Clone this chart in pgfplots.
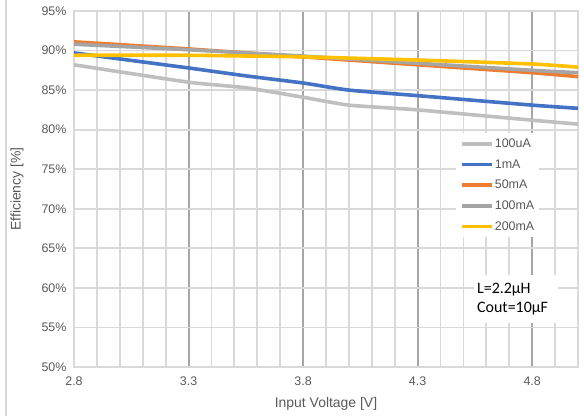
\documentclass[border=0pt]{standalone}
\usepackage{pgfplots}
\pgfplotsset{compat=1.18}
\usepackage{fontspec}
\setmainfont{Liberation Sans}
\newfontfamily\calib{Carlito}
\definecolor{txt}{HTML}{595959}
\definecolor{gridl}{HTML}{D9D9D9}
\definecolor{gridd}{HTML}{A6A6A6}
\definecolor{cA}{HTML}{BFBFBF}
\definecolor{cB}{HTML}{4472C4}
\definecolor{cC}{HTML}{ED7D31}
\definecolor{cD}{HTML}{A5A5A5}
\definecolor{cE}{HTML}{FFC000}
\begin{document}
\begin{tikzpicture}[x=1bp,y=1bp]
\path[use as bounding box] (0,0) rectangle (584,416);
\draw[color=gridl, line width=1.2bp] (6,0) -- (6,416);
\begin{axis}[
  at={(74bp,49bp)}, anchor=south west,
  scale only axis, width=504bp, height=356bp,
  xmin=2.8, xmax=5.0, ymin=50, ymax=95,
  xtick={3.3,3.8,4.3,4.8},
  xticklabels={3.3,3.8,4.3,4.8},
  extra x ticks={2.8},
  extra x tick labels={2.8},
  extra x tick style={xmajorgrids=false},
  minor xtick={2.9,3.0,3.1,3.2,3.4,3.5,3.6,3.7,3.9,4.0,4.1,4.2,4.4,4.5,4.6,4.7,4.9,5.0},
  ytick={50,55,60,65,70,75,80,85,90,95},
  yticklabels={50\%,55\%,60\%,65\%,70\%,75\%,80\%,85\%,90\%,95\%},
  xminorgrids=true, xmajorgrids=true, ymajorgrids=true,
  minor grid style={color=gridl, line width=1.8bp},
  x grid style={color=gridd, line width=2bp},
  y grid style={color=gridl, line width=1.8bp},
  minor x grid style={color=gridl, line width=1.8bp},
  major tick length=0pt, minor tick length=0pt,
  axis line style={color=gridl, line width=1.8bp},
  tick label style={font=\fontsize{12.5}{14}\selectfont, text=txt},
  xticklabel style={yshift=-6bp},
  yticklabel style={xshift=-4bp},
  xlabel={Input Voltage [V]},
  ylabel={Efficiency [\%]},
  label style={font=\fontsize{14}{16}\selectfont, text=txt},
  xlabel style={at={(axis description cs:0.5,-0.104)}, anchor=center},
  ylabel style={at={(axis description cs:-0.113,0.5)}, anchor=center, rotate=0},
  legend style={at={(rel axis cs:0.758,0.657)}, anchor=north west, draw=none, fill=white,
    font=\fontsize{12.5}{14}\selectfont, text=txt, row sep=8.5bp,
    inner xsep=4bp, inner ysep=4.5bp, nodes={inner sep=1bp}},
  legend cell align=left,
  legend image code/.code={\draw[#1, line width=3.6bp] (0bp,0bp) -- (30bp,0bp);},
  every axis plot/.append style={line width=3.6bp, smooth, tension=0.3},
  clip=true,
]
\addplot[color=cA] coordinates {(2.8,88.2) (3.3,86.0) (3.55,85.3) (3.8,84.1) (4.0,83.1) (4.3,82.5) (4.8,81.2) (5.0,80.7)};
\addlegendentry{100uA}
\addplot[color=cB] coordinates {(2.8,89.7) (3.3,87.8) (3.55,86.8) (3.8,85.9) (4.0,85.0) (4.3,84.3) (4.8,83.1) (5.0,82.7)};
\addlegendentry{1mA}
\addplot[color=cC] coordinates {(2.8,91.1) (3.3,90.2) (3.8,89.2) (4.3,88.2) (4.8,87.2) (5.0,86.7)};
\addlegendentry{50mA}
\addplot[color=cD] coordinates {(2.8,90.8) (3.3,90.1) (3.8,89.3) (4.3,88.4) (4.8,87.5) (5.0,87.2)};
\addlegendentry{100mA}
\addplot[color=cE] coordinates {(2.8,89.4) (3.3,89.4) (3.8,89.2) (4.3,88.8) (4.8,88.3) (5.0,87.9)};
\addlegendentry{200mA}
\node[fill=white, minimum width=84bp, minimum height=48bp, inner sep=3bp, align=left, text width=78bp,
  font=\calib\fontsize{16}{18.5}\selectfont, text=black] at (axis cs:4.730,58.6) {L=2.2µH\\Cout=10µF};
\end{axis}
\end{tikzpicture}
\end{document}
